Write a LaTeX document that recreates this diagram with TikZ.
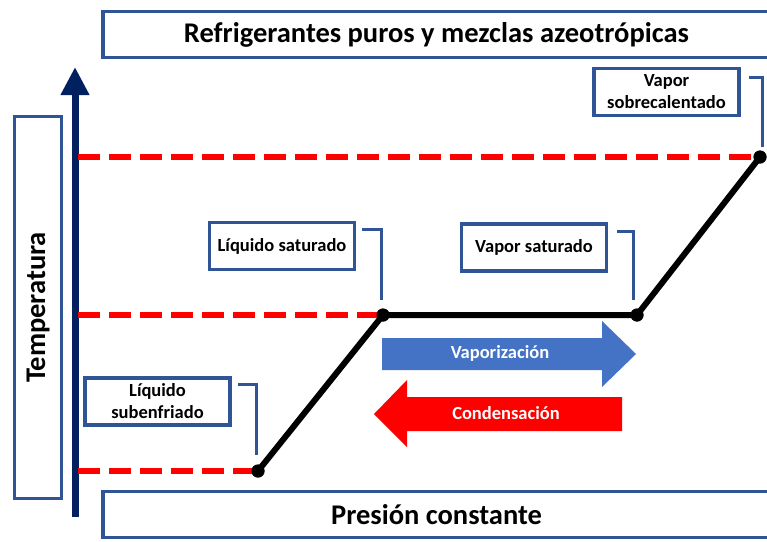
\documentclass[tikz,border=0pt]{standalone}
\usepackage{fontspec}
\setmainfont{Carlito}
\usetikzlibrary{arrows.meta}
\definecolor{boxblue}{HTML}{2F5597}
\definecolor{axisblue}{HTML}{002060}
\definecolor{vapblue}{HTML}{4472C4}
\definecolor{lred}{HTML}{FF0000}

\begin{document}
\begin{tikzpicture}[x=1pt,y=-1pt]
        \tikzstyle{every node}=[font=\bfseries]
        \tikzstyle{frame}=[draw=boxblue,line width=3.5pt,fill=white,inner sep=0pt]
        \tikzstyle{bigtext}=[font=\bfseries\fontsize{28.5}{32}\selectfont]
        \tikzstyle{callout}=[frame,align=center,minimum width=145pt,minimum height=47pt,font=\bfseries\fontsize{18.5}{22}\selectfont]
        \tikzstyle{bracket}=[draw=boxblue,line width=3pt]
        \tikzstyle{tline}=[draw=lred,line width=6pt,dash pattern=on 22pt off 9pt]
        \tikzstyle{curve}=[line width=6pt,line join=round]
        \tikzstyle{dot}=[circle,fill=black,inner sep=0pt,minimum size=13pt]
        \tikzstyle{flow}=[font=\bfseries\fontsize{18.5}{22}\selectfont,text=white]
        \useasboundingbox (0,0) rectangle (767,541);
        % frames
        \node[frame,bigtext,minimum width=667pt,minimum height=46pt] (title) at (436.5,34.5) {Refrigerantes puros y mezclas azeotrópicas};
        \node[frame,bigtext,minimum width=667pt,minimum height=46pt] (pres) at (436.5,514.5) {Presión constante};
        \node[frame,bigtext,rotate=90,minimum width=382pt,minimum height=47pt] (temp) at (38,307.5) {Temperatura};
        % axis
        \coordinate (axbot) at (75,517);
        \coordinate (axtop) at (75,67);
        \draw[axisblue,line width=7pt,-{Triangle[width=27pt,length=28pt]}] (axbot) -- (axtop);
        % levels
        \coordinate (t1) at (78,471);
        \coordinate (t2) at (78,315);
        \coordinate (t3) at (78,157);
        \node[dot] (p1) at (258,471) {};
        \node[dot] (p2) at (383,315) {};
        \node[dot] (p3) at (637,315) {};
        \node[dot] (p4) at (760,157) {};
        \draw[tline] (t1) -- (p1.center);
        \draw[tline] (t2) -- (p2.center);
        \draw[tline] (t3) -- (p4.center);
        \draw[curve] (p1.center) -- (p2.center) -- (p3.center) -- (p4.center);
        \node[dot] at (p1) {};
        \node[dot] at (p2) {};
        \node[dot] at (p3) {};
        \node[dot] at (p4) {};
        % callouts
        \node[callout] (liqsub) at (157.5,401.5) {Líquido\\subenfriado};
        \node[callout] (liqsat) at (282,246) {Líquido saturado};
        \node[callout] (vapsat) at (534,247.5) {Vapor saturado};
        \node[callout] (vapsob) at (666.5,92) {Vapor\\sobrecalentado};
        \draw[bracket] ([xshift=6pt,yshift=-8pt]liqsub.north east) -| ([xshift=-2pt,yshift=16pt]p1.center);
        \draw[bracket] ([xshift=6pt,yshift=-9pt]liqsat.north east) -| ([xshift=-2pt,yshift=15pt]p2.center);
        \draw[bracket] ([xshift=9pt,yshift=-9pt]vapsat.north east) -| ([xshift=-4pt,yshift=15pt]p3.center);
        \draw[bracket] ([xshift=8pt,yshift=-11pt]vapsob.north east) -| ([xshift=2pt,yshift=10pt]p4.center);
        % vaporizacion / condensacion
        \fill[vapblue] (382,338) -- (602,338) -- (602,321) -- (636,354) -- (602,387) -- (602,370) -- (382,370) -- cycle;
        \node[flow] (vap) at (500,353) {Vaporización};
        \fill[lred] (622,397) -- (407,397) -- (407,380) -- (374,414) -- (407,447) -- (407,431) -- (622,431) -- cycle;
        \node[flow] (cond) at (506,413) {Condensación};
\end{tikzpicture}
\end{document}
